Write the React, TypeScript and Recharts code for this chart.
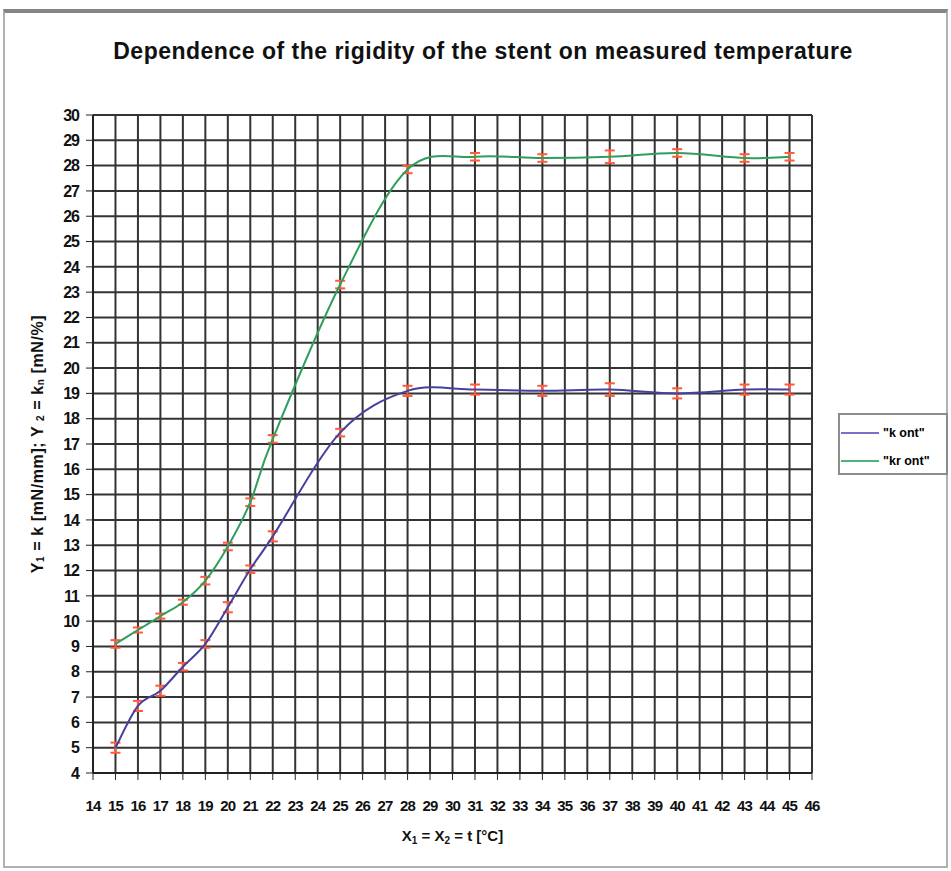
import React from 'react';
import { LineChart, Line, XAxis, YAxis, CartesianGrid, ErrorBar, Legend } from 'recharts';

// measured temperatures [°C]
const TEMPS = [15, 16, 17, 18, 19, 20, 21, 22, 25, 28, 31, 34, 37, 40, 43, 45];
// "k ont" series
const K_ONT = [5.0, 6.65, 7.25, 8.2, 9.1, 10.55, 12.05, 13.35, 17.45, 19.1, 19.15, 19.1, 19.15, 19.0, 19.15, 19.15];
const K_ERR = [0.2, 0.2, 0.2, 0.15, 0.15, 0.2, 0.15, 0.2, 0.15, 0.2, 0.2, 0.2, 0.25, 0.2, 0.2, 0.2];
// "kr ont" series
const KR_ONT = [9.1, 9.65, 10.2, 10.75, 11.6, 12.95, 14.7, 17.2, 23.3, 27.85, 28.35, 28.3, 28.35, 28.5, 28.3, 28.35];
const KR_ERR = [0.15, 0.1, 0.1, 0.1, 0.15, 0.15, 0.15, 0.15, 0.15, 0.15, 0.15, 0.15, 0.25, 0.15, 0.15, 0.15];

const X_TICKS = [14, 15, 16, 17, 18, 19, 20, 21, 22, 23, 24, 25, 26, 27, 28, 29, 30, 31, 32, 33, 34, 35, 36, 37, 38, 39, 40, 41, 42, 43, 44, 45, 46];
const Y_TICKS = [4, 5, 6, 7, 8, 9, 10, 11, 12, 13, 14, 15, 16, 17, 18, 19, 20, 21, 22, 23, 24, 25, 26, 27, 28, 29, 30];

const SERIES_NAMES = ['"k ont"', '"kr ont"'];
const BLUE = '#45419c';
const GREEN = '#2f9e5c';
const ERR_RED = '#ff5a3a';
const FONT = '"Liberation Sans", Arial, sans-serif';

const data = TEMPS.map((t, i) => ({
  t,
  k: K_ONT[i],
  kr: KR_ONT[i],
  kErr: K_ERR[i],
  krErr: KR_ERR[i],
}));

// Excel-like smoothed line (Catmull-Rom through the points)
const smoothCurve: any = (context: any) => {
  let pts: number[][] = [];
  return {
    areaStart() {},
    areaEnd() {},
    lineStart() {
      pts = [];
    },
    point(x: number, y: number) {
      pts.push([+x, +y]);
    },
    lineEnd() {
      if (!pts.length) return;
      context.moveTo(pts[0][0], pts[0][1]);
      for (let i = 0; i < pts.length - 1; i++) {
        const p0 = pts[i - 1] || pts[i];
        const p1 = pts[i];
        const p2 = pts[i + 1];
        const p3 = pts[i + 2] || p2;
        context.bezierCurveTo(
          p1[0] + (p2[0] - p0[0]) / 6,
          p1[1] + (p2[1] - p0[1]) / 6,
          p2[0] - (p3[0] - p1[0]) / 6,
          p2[1] - (p3[1] - p1[1]) / 6,
          p2[0],
          p2[1]
        );
      }
    },
  };
};

const YLabel = ({ viewBox }: any) => {
  const x = viewBox.x + 37;
  const y = viewBox.y + viewBox.height / 2;
  return (
    <text
      x={x}
      y={y}
      transform={`rotate(-90, ${x}, ${y})`}
      textAnchor="middle"
      dominantBaseline="central"
      fontFamily={FONT}
      fontWeight="bold"
      fontSize={16}
      letterSpacing={0.6}
      fill="#111"
    >
      Y<tspan fontSize={10} dy={3}>1</tspan>
      <tspan dy={-3}> = k [mN/mm]; Y </tspan>
      <tspan fontSize={10} dy={3}>2</tspan>
      <tspan dy={-3}> = k</tspan>
      <tspan fontSize={10} dy={3}>n</tspan>
      <tspan dy={-3}> [mN/%]</tspan>
    </text>
  );
};

const XLabel = ({ viewBox }: any) => {
  const x = viewBox.x + viewBox.width / 2;
  const y = viewBox.y + 68;
  return (
    <text x={x} y={y} textAnchor="middle" fontFamily={FONT} fontWeight="bold" fontSize={15} fill="#111">
      X<tspan fontSize={10} dy={3}>1</tspan>
      <tspan dy={-3}> = X</tspan>
      <tspan fontSize={10} dy={3}>2</tspan>
      <tspan dy={-3}> = t [°C]</tspan>
    </text>
  );
};

const LegendBox = () => (
  <div
    style={{
      width: 110,
      height: 62,
      border: '2px solid #8c8c8c',
      background: '#fff',
      fontFamily: FONT,
      fontWeight: 'bold',
      fontSize: 12.5,
      boxSizing: 'border-box',
      paddingTop: 10,
    }}
  >
    {SERIES_NAMES.map((name, i) => (
      <div key={name} style={{ display: 'flex', alignItems: 'center', height: 15, marginBottom: i === 0 ? 13 : 0 }}>
        <span style={{ display: 'inline-block', width: 38, height: 2, background: i === 0 ? '#7b70c4' : '#4fb47a', marginLeft: 1, marginRight: 4 }} />
        <span>{name}</span>
      </div>
    ))}
  </div>
);

export default function App() {
  return (
    <div style={{ position: 'fixed', left: 0, top: 0, width: 951, height: 871, background: '#fff' }}>
      <div
        style={{
          position: 'absolute',
          left: 3,
          top: 9,
          width: 945,
          height: 859,
          borderTop: '4px solid #858585',
          borderLeft: '2px solid #b0b0b0',
          borderRight: '2px solid #b0b0b0',
          borderBottom: '2px solid #b0b0b0',
          boxSizing: 'border-box',
        }}
      />
      <div
        style={{
          position: 'absolute',
          left: 0,
          top: 38,
          width: 966,
          textAlign: 'center',
          fontFamily: FONT,
          fontWeight: 'bold',
          fontSize: 23,
          color: '#111',
          letterSpacing: 0.5,
        }}
      >
        Dependence of the rigidity of the stent on measured temperature
      </div>
      <LineChart width={951} height={871} data={data} margin={{ top: 115, right: 139, bottom: 0, left: 0 }}>
        <CartesianGrid stroke="#333" strokeWidth={2} />
        <XAxis
          dataKey="t"
          type="number"
          domain={[14, 46]}
          ticks={X_TICKS}
          interval={0}
          height={98}
          tickSize={7}
          tickMargin={20}
          axisLine={{ stroke: '#222', strokeWidth: 2 }}
          tickLine={{ stroke: '#222' }}
          tick={{ fontFamily: FONT, fontWeight: 'bold', fontSize: 15, fill: '#111', letterSpacing: -0.8 }}
          label={<XLabel />}
        />
        <YAxis
          type="number"
          domain={[4, 30]}
          ticks={Y_TICKS}
          interval={0}
          width={93}
          tickSize={7}
          tickMargin={7}
          axisLine={{ stroke: '#222', strokeWidth: 2 }}
          tickLine={{ stroke: '#222' }}
          tick={{ fontFamily: FONT, fontWeight: 'bold', fontSize: 16, fill: '#111', letterSpacing: -1 }}
          label={<YLabel />}
        />
        <Legend
          layout="vertical"
          align="center"
          verticalAlign="middle"
          content={<LegendBox />}
          wrapperStyle={{ left: 838, top: 413, width: 110, height: 62 }}
        />
        <Line
          dataKey="k"
          name={SERIES_NAMES[0]}
          type={smoothCurve}
          stroke={BLUE}
          strokeWidth={2}
          dot={false}
          isAnimationActive={false}
        >
          <ErrorBar dataKey="kErr" direction="y" width={5} stroke={ERR_RED} strokeWidth={2} />
        </Line>
        <Line
          dataKey="kr"
          name={SERIES_NAMES[1]}
          type={smoothCurve}
          stroke={GREEN}
          strokeWidth={2}
          dot={false}
          isAnimationActive={false}
        >
          <ErrorBar dataKey="krErr" direction="y" width={5} stroke={ERR_RED} strokeWidth={2} />
        </Line>
      </LineChart>
    </div>
  );
}
